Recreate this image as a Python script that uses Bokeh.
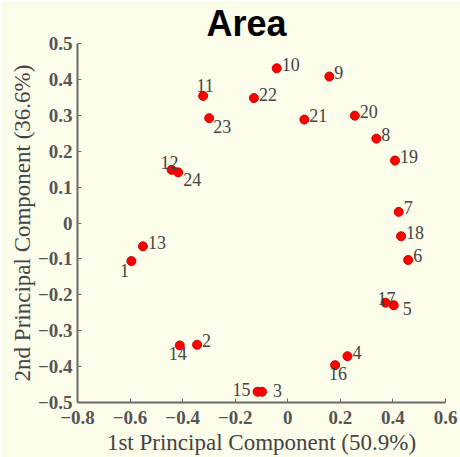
from bokeh.plotting import figure
from bokeh.models import ColumnDataSource, FixedTicker
from bokeh.core.properties import value
from bokeh.embed import file_html
from bokeh.resources import INLINE

# ---- data ----
ids = ["1", "2", "3", "4", "5", "6", "7", "8", "9", "10", "11", "12",
       "13", "14", "15", "16", "17", "18", "19", "20", "21", "22", "23", "24"]
pc1 = [-0.595, -0.345, -0.098, 0.227, 0.403, 0.458, 0.422, 0.337, 0.158, -0.042, -0.322, -0.442,
       -0.551, -0.411, -0.115, 0.180, 0.372, 0.431, 0.408, 0.255, 0.063, -0.129, -0.299, -0.417]
pc2 = [-0.106, -0.339, -0.470, -0.371, -0.229, -0.103, 0.031, 0.235, 0.408, 0.431, 0.354, 0.148,
       -0.065, -0.341, -0.470, -0.396, -0.222, -0.037, 0.174, 0.299, 0.288, 0.348, 0.292, 0.141]
x_ticks = [-0.8, -0.6, -0.4, -0.2, 0, 0.2, 0.4, 0.6]
y_ticks = [-0.5, -0.4, -0.3, -0.2, -0.1, 0, 0.1, 0.2, 0.3, 0.4, 0.5]
title_text = "Area"
x_label = "1st Principal Component (50.9%)"
y_label = "2nd Principal Component (36.6%)"

# ---- label placement (style, not data) ----
default_place = ("left", 5, -4)
place = {
    "1": ("center", -7, 9), "14": ("center", -2, 8), "11": ("center", 2, -10),
    "23": ("left", 4, 8), "12": ("center", -2, -7), "24": ("left", 5, 7),
    "17": ("center", 1, -4), "5": ("left", 9, 3), "16": ("center", 3, 8),
    "15": ("right", -7, -2), "3": ("left", 11, -1),
}
aligns = [place.get(i, default_place)[0] for i in ids]
xoffs = [place.get(i, default_place)[1] for i in ids]
yoffs = [place.get(i, default_place)[2] for i in ids]

src = ColumnDataSource(dict(x=pc1, y=pc2, t=ids, al=aligns, xo=xoffs, yo=yoffs))

BG = "#FCFCEB"
GREY = "#6a6a6a"
SERIF = "Liberation Serif"

p = figure(width=460, height=457, output_backend="svg", toolbar_location=None,
           x_range=(-0.8, 0.6), y_range=(-0.5, 0.5),
           min_border_left=77, min_border_right=15, min_border_top=42, min_border_bottom=50)
p.background_fill_color = BG
p.border_fill_color = BG
p.outline_line_color = None
p.xgrid.visible = False
p.ygrid.visible = False

p.title.text = title_text
p.title.text_font = "Liberation Sans"
p.title.text_font_style = "bold"
p.title.text_font_size = "36px"
p.title.text_color = "#000000"
p.title.align = "left"
p.title.offset = 129
p.title.standoff = 0
p.title.text_line_height = 0.8

for ax, ticks, lab in ((p.xaxis[0], x_ticks, x_label), (p.yaxis[0], y_ticks, y_label)):
    ax.ticker = FixedTicker(ticks=ticks)
    ax.axis_label = lab
    ax.axis_line_color = GREY
    ax.axis_line_width = 2
    ax.major_tick_line_color = GREY
    ax.major_tick_in = 4
    ax.major_tick_out = 0
    ax.minor_tick_line_color = None
    ax.major_label_text_font = SERIF
    ax.major_label_text_font_size = "19px"
    ax.major_label_text_color = "#555555"
    ax.major_label_text_font_style = "bold"
    ax.axis_label_text_font = SERIF
    ax.axis_label_text_font_size = "23px"
    ax.axis_label_text_color = "#444444"
    ax.axis_label_text_font_style = "normal"

p.xaxis[0].major_label_standoff = 8
p.xaxis[0].axis_label_standoff = 3
p.yaxis[0].major_label_standoff = 5
p.yaxis[0].axis_label_standoff = 0

p.scatter("x", "y", source=src, size=9, fill_color="#ff0000", line_color="#d00000", line_width=1)
p.text("x", "y", text="t", source=src, text_align="al", text_baseline="middle",
       x_offset="xo", y_offset="yo", text_font=value(SERIF), text_font_size="18px",
       text_color="#444444")

html = file_html(p, INLINE)
html = html.replace("<body>", '<body style="background:%s">' % BG, 1)
open("out.html", "w").write(html)
